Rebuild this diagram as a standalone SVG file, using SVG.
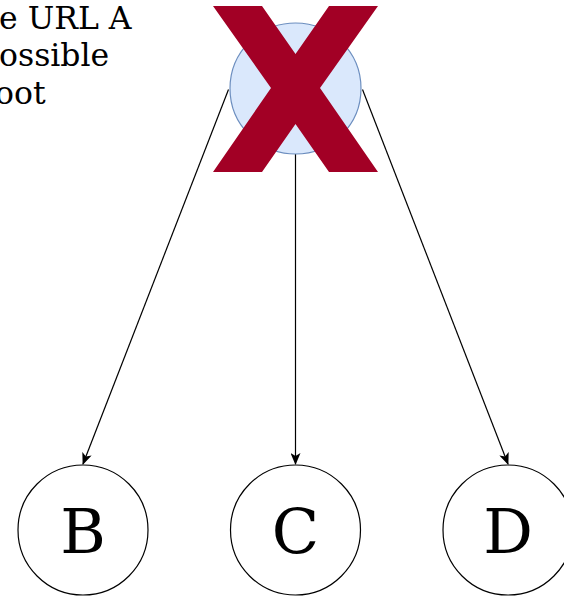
<svg xmlns="http://www.w3.org/2000/svg" width="564" height="598" viewBox="0 0 564 598">
  <defs>
    <style>
      .node { fill: #ffffff; stroke: #000000; stroke-width: 1.2; }
      .root { fill: #dae8fc; stroke: #6c8ebf; stroke-width: 1.2; }
      .label { font-family: "DejaVu Serif", "Liberation Serif", serif; font-size: 62px; fill: #000000; text-anchor: middle; }
      .note { font-family: "DejaVu Serif", "Liberation Serif", serif; font-size: 31.5px; fill: #000000; }
      .edge { fill: none; stroke: #000000; stroke-width: 1.2; }
    </style>
    <marker id="arrow" viewBox="0 0 12 10" refX="11" refY="5" markerWidth="12" markerHeight="10" markerUnits="userSpaceOnUse" orient="auto">
      <path d="M0,0 L12,5 L0,10 L3,5 Z" fill="#000000"/>
    </marker>
  </defs>

  <!-- note text, running off the left edge -->
  <g id="note">
    <text class="note" x="-1" y="28.5">e URL A</text>
    <text class="note" x="-1" y="66">ossible</text>
    <text class="note" x="-5" y="103.5">oot</text>
  </g>

  <!-- connectors -->
  <g id="edges">
    <path class="edge" d="M228.5,89.5 L83,464" marker-end="url(#arrow)"/>
    <path class="edge" d="M295.5,154 L295.5,464" marker-end="url(#arrow)"/>
    <path class="edge" d="M362.5,89.5 L508,464" marker-end="url(#arrow)"/>
  </g>

  <!-- root node crossed out -->
  <g id="node-a">
    <circle class="root" cx="295.5" cy="88.5" r="65.5"/>
    <polygon fill="#a20025" points="213,6 262,6 295.5,54 329,6 378,6 320,88 378,172 329,172 295.5,124 262,172 213,172 271,88"/>
  </g>

  <g id="node-b">
    <circle class="node" cx="83" cy="530" r="65"/>
    <text class="label" x="83" y="553">B</text>
  </g>

  <g id="node-c">
    <circle class="node" cx="295.5" cy="530" r="65"/>
    <text class="label" x="295.5" y="553">C</text>
  </g>

  <g id="node-d">
    <circle class="node" cx="508" cy="530" r="65"/>
    <text class="label" x="508" y="553">D</text>
  </g>
</svg>
